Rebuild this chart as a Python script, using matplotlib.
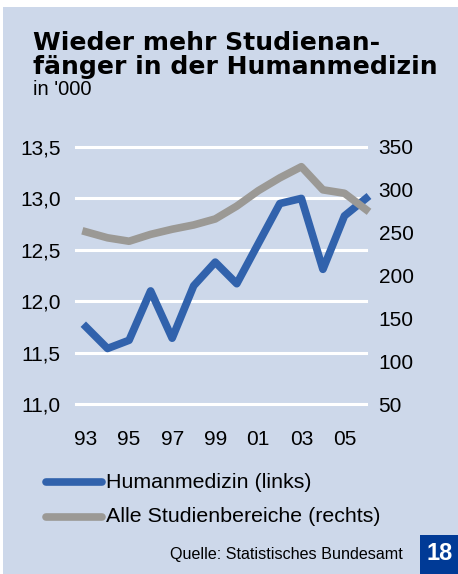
import matplotlib.pyplot as plt
from matplotlib.patches import Rectangle

# Werte (Tsd.)
years = ['93', '94', '95', '96', '97', '98', '99', '00', '01', '02', '03', '04', '05', '06']
humanmedizin = [11.75, 11.54, 11.62, 12.10, 11.64, 12.15, 12.38, 12.17, 12.56, 12.95, 13.00, 12.31, 12.83, 13.00]
alle_bereiche = [251, 244, 240, 248, 254, 259, 266, 281, 299, 314, 327, 300, 296, 277]

left_ticks = [11.0, 11.5, 12.0, 12.5, 13.0, 13.5]
right_ticks = [50, 100, 150, 200, 250, 300, 350]

bg = '#CDD8EA'
blue = '#3162AC'
grey = '#9B9995'

plt.rcParams['font.family'] = ['Liberation Sans', 'DejaVu Sans']

fig = plt.figure(figsize=(4.58, 5.74), dpi=100)
fig.patch.set_facecolor('white')
fig.patches.append(Rectangle((3 / 458, 0), 1, 1 - 7 / 574, transform=fig.transFigure,
                             facecolor=bg, edgecolor='none', zorder=-1))

W, H = 458, 574
ax = fig.add_axes([76 / W, 1 - 404 / H, 290 / W, 257 / H])
ax.set_facecolor('none')
for s in ax.spines.values():
    s.set_visible(False)

x = list(range(len(years)))
ax.set_xlim(-0.464, len(years) - 1)
ax.set_ylim(11.0, 13.5)
ax.set_yticks(left_ticks)
ax.set_yticklabels([f'{v:.1f}'.replace('.', ',') for v in left_ticks])
ax.set_xticks(x[::2])
ax.set_xticklabels(years[::2])
ax.tick_params(length=0, labelsize=15, colors='black')
ax.tick_params(axis='x', pad=19)
ax.tick_params(axis='y', pad=11)
for v in left_ticks:
    ax.axhline(v, color='white', lw=2.2, zorder=1, clip_on=False)

ax.plot(x, humanmedizin, color=blue, lw=5.5, zorder=3, clip_on=False)

ax2 = ax.twinx()
ax2.set_facecolor('none')
for s in ax2.spines.values():
    s.set_visible(False)
ax2.set_ylim(50, 350)
ax2.set_yticks(right_ticks)
ax2.tick_params(length=0, labelsize=15, pad=9)
ax2.plot(x, alle_bereiche, color=grey, lw=5.5, zorder=2, clip_on=False)

# Titel
fig.text(33 / W, 1 - 31 / H, 'Wieder mehr Studienan-\nfänger in der Humanmedizin',
         fontsize=18.1, fontweight='heavy', family='DejaVu Sans', va='top', ha='left',
         linespacing=1.02)
fig.text(33 / W, 1 - 80 / H, "in '000", fontsize=14.5, va='top', ha='left')

# Legende
fig.add_artist(plt.Line2D([46 / W, 102 / W], [1 - 482 / H] * 2, color=blue, lw=5.5,
                          solid_capstyle='round', transform=fig.transFigure))
fig.add_artist(plt.Line2D([46 / W, 102 / W], [1 - 517 / H] * 2, color=grey, lw=5.5,
                          solid_capstyle='round', transform=fig.transFigure))
fig.text(106 / W, 1 - 482 / H, 'Humanmedizin (links)', fontsize=15.4, va='center', ha='left')
fig.text(106 / W, 1 - 517 / H, 'Alle Studienbereiche (rechts)', fontsize=15.4, va='center', ha='left')

# Quelle und Seitenzahl
fig.text(403 / W, 1 - 555 / H, 'Quelle: Statistisches Bundesamt', fontsize=11.6,
         va='center', ha='right')
fig.patches.append(Rectangle((420 / W, 0), 38 / W, 39 / H, transform=fig.transFigure,
                             facecolor='#003A96', edgecolor='none'))
fig.text(440 / W, 1 - 554 / H, '18', fontsize=17, fontweight='bold', color='white',
         va='center', ha='center')

fig.savefig('out.png', dpi=100, facecolor=fig.get_facecolor())
